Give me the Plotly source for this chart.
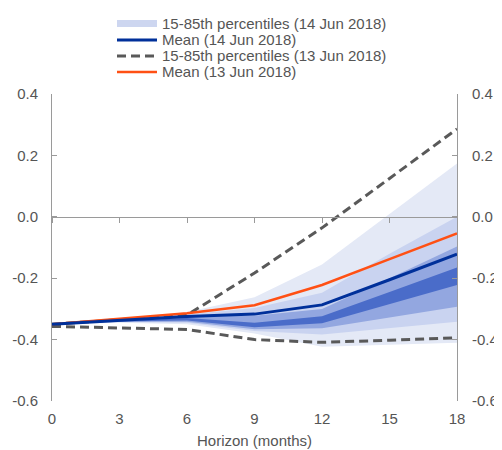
import plotly.graph_objects as go

months = [0, 3, 6, 9, 12, 15, 18]

# Fan bands for 14 Jun 2018 (lower, upper), from outer to inner
band1_lower = [-0.350, -0.345, -0.350, -0.380, -0.423, -0.417, -0.410]
band1_upper = [-0.350, -0.335, -0.310, -0.262, -0.155, 0.010, 0.174]
band2_lower = [-0.350, -0.343, -0.345, -0.372, -0.383, -0.362, -0.342]
band2_upper = [-0.350, -0.337, -0.318, -0.297, -0.247, -0.120, 0.000]
band3_lower = [-0.350, -0.342, -0.342, -0.366, -0.363, -0.328, -0.293]
band3_upper = [-0.350, -0.339, -0.325, -0.322, -0.300, -0.200, -0.097]
band4_lower = [-0.350, -0.341, -0.338, -0.360, -0.347, -0.285, -0.222]
band4_upper = [-0.350, -0.340, -0.330, -0.345, -0.324, -0.245, -0.165]

mean_14 = [-0.350, -0.338, -0.325, -0.317, -0.287, -0.205, -0.122]
mean_13 = [-0.350, -0.333, -0.314, -0.288, -0.222, -0.138, -0.054]
upper_13 = [-0.350, -0.336, -0.320, -0.183, -0.036, 0.125, 0.286]
lower_13 = [-0.357, -0.361, -0.367, -0.400, -0.409, -0.402, -0.394]

y_ticks = [0.4, 0.2, 0.0, -0.2, -0.4, -0.6]
y_labels = ["0.4", "0.2", "0.0", "-0.2", "-0.4", "-0.6"]
x_ticks = [0, 3, 6, 9, 12, 15, 18]

legend_names = ["15-85th percentiles (14 Jun 2018)", "Mean (14 Jun 2018)",
                "15-85th percentiles (13 Jun 2018)", "Mean (13 Jun 2018)"]

# styles / layout (the page body adds an 8px offset, compensated here)
W, H = 502, 450
OFF = 8
ML, MR, MT, MB = 52 - OFF, 53, 94 - OFF, 57
band_colors = ["#e4e9f6", "#c9d3f0", "#93a7e0", "#4a6cc9"]
swatch_fill = "#cdd6f0"
dash_col = "#595959"
blue = "#00309a"
orange = "#ff5014"
font_col = "#555555"
axis_col = "#9a9a9a"
FS = 15

bands = [(band1_lower, band1_upper), (band2_lower, band2_upper),
         (band3_lower, band3_upper), (band4_lower, band4_upper)]

fig = go.Figure()

for (lo, up), col in zip(bands, band_colors):
    fig.add_trace(go.Scatter(x=months, y=lo, mode="lines", line=dict(width=0),
                             showlegend=False, hoverinfo="skip"))
    fig.add_trace(go.Scatter(x=months, y=up, mode="lines", line=dict(width=0),
                             fill="tonexty", fillcolor=col, showlegend=False,
                             name=legend_names[0], hoverinfo="skip"))

dash_style = dict(color=dash_col, width=3, dash="9px,5px")
fig.add_trace(go.Scatter(x=months, y=upper_13, mode="lines", line=dash_style,
                         name=legend_names[2], showlegend=False))
fig.add_trace(go.Scatter(x=months, y=lower_13, mode="lines", line=dash_style,
                         name=legend_names[2], showlegend=False))
fig.add_trace(go.Scatter(x=months, y=mean_13, mode="lines",
                         line=dict(color=orange, width=2.5),
                         name=legend_names[3], showlegend=False))
fig.add_trace(go.Scatter(x=months, y=mean_14, mode="lines",
                         line=dict(color=blue, width=3),
                         name=legend_names[1], showlegend=False))

# dummy traces for the right axis and for the zero-line axis
fig.add_trace(go.Scatter(x=[None], y=[None], yaxis="y2", showlegend=False))
fig.add_trace(go.Scatter(x=[None], y=[None], xaxis="x2", showlegend=False))

# --- hand-drawn legend (tight spacing as in the reference) ---
plot_w = W - ML - MR
plot_h = H - MT - MB


def px_to_paper_x(px):
    # px in screen pixels
    return (px - OFF - ML) / plot_w


def px_to_paper_y(py):
    return (H - MB - (py - OFF)) / plot_h


leg_x0, leg_x1, leg_tx = 117, 157, 160
leg_rows = [23.5, 40, 56, 72]
shapes = []
annotations = []
for i, (name, row) in enumerate(zip(legend_names, leg_rows)):
    yc = px_to_paper_y(row)
    if i == 0:
        shapes.append(dict(type="rect", xref="paper", yref="paper",
                           x0=px_to_paper_x(leg_x0), x1=px_to_paper_x(leg_x1),
                           y0=px_to_paper_y(row + 3.5), y1=px_to_paper_y(row - 3.5),
                           fillcolor=swatch_fill, line=dict(width=0)))
    else:
        style = {1: dict(color=blue, width=3),
                 2: dict(color=dash_col, width=3, dash="9px,5px"),
                 3: dict(color=orange, width=2.5)}[i]
        shapes.append(dict(type="line", xref="paper", yref="paper",
                           x0=px_to_paper_x(leg_x0), x1=px_to_paper_x(leg_x1),
                           y0=yc, y1=yc, line=style))
    annotations.append(dict(text=name, xref="paper", yref="paper",
                            x=px_to_paper_x(leg_tx), y=yc, xanchor="left",
                            yanchor="middle", showarrow=False,
                            font=dict(size=FS, color=font_col)))

fig.update_layout(
    width=W, height=H,
    margin=dict(l=ML, r=MR, t=MT, b=MB),
    paper_bgcolor="white", plot_bgcolor="white",
    font=dict(family="Liberation Sans, Arial, sans-serif", size=FS, color=font_col),
    showlegend=False,
    shapes=shapes,
    annotations=annotations,
    xaxis=dict(range=[0, 18], tickvals=x_ticks, showline=False, showgrid=False,
               zeroline=False, ticks="", tickfont=dict(size=FS, color=font_col),
               ticklabelstandoff=7, automargin=False,
               title=dict(text="Horizon (months)", font=dict(size=FS, color=font_col),
                          standoff=9)),
    xaxis2=dict(range=[0, 18], tickvals=x_ticks, overlaying="x", anchor="free",
                position=0.6, side="bottom", showline=True, linecolor=axis_col,
                linewidth=1, ticks="outside", ticklen=5, tickcolor=axis_col,
                showticklabels=False, showgrid=False, zeroline=False,
                automargin=False),
    yaxis=dict(range=[-0.6, 0.4], tickvals=y_ticks, ticktext=y_labels,
               showline=True, linecolor=axis_col, linewidth=1, ticks="inside",
               ticklen=5, tickcolor=axis_col, showgrid=False, zeroline=False,
               ticklabelstandoff=10, automargin=False,
               tickfont=dict(size=FS, color=font_col)),
    yaxis2=dict(range=[-0.6, 0.4], tickvals=y_ticks, ticktext=y_labels,
                overlaying="y", side="right", showline=True, linecolor=axis_col,
                linewidth=1, ticks="inside", ticklen=5, tickcolor=axis_col,
                showgrid=False, zeroline=False, ticklabelstandoff=11,
                automargin=False, tickfont=dict(size=FS, color=font_col)),
)

fig.write_html("out.html")
